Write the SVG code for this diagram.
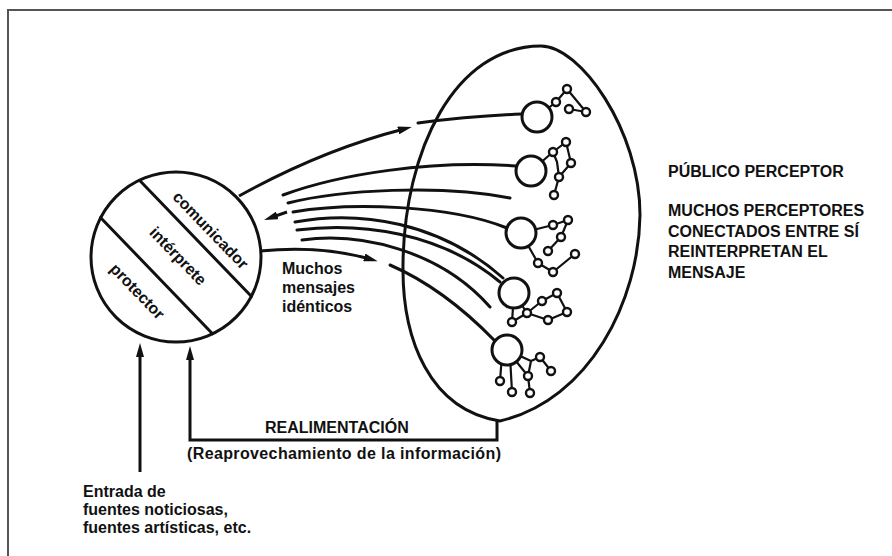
<svg xmlns="http://www.w3.org/2000/svg" width="892" height="556" viewBox="0 0 892 556">
<style>
  .ln{fill:none;stroke:#111;stroke-width:3;stroke-linecap:round}
  .ar{fill:none;stroke:#111;stroke-width:3;stroke-linecap:butt}
  .big{fill:#fff;stroke:#111;stroke-width:3}
  .sm{fill:#fff;stroke:#111;stroke-width:2.4}
  .ed{fill:none;stroke:#111;stroke-width:2.2;stroke-linejoin:round}
  .t{font-family:"Liberation Sans",Arial,sans-serif;font-size:16px;font-weight:bold;fill:#111}
  .frame{stroke:#555;stroke-width:2;fill:none}
</style>
<defs>
  <marker id="ah" viewBox="0 0 14 8" refX="6" refY="4" markerWidth="14" markerHeight="8" markerUnits="userSpaceOnUse" orient="auto">
    <path d="M0,0 L14,4 L0,8 z" fill="#111"/>
  </marker>
</defs>
<rect width="892" height="556" fill="#fff"/>
<path class="frame" d="M8,556 L8,10 L892,10"/>

<g id="fuente">
  <g transform="translate(176,257)">
    <circle class="big" cx="0" cy="0" r="85"/>
  </g>
  <line class="ln" x1="139.5" y1="180.3" x2="251.3" y2="296.3"/>
  <line class="ln" x1="100.7" y1="217.7" x2="212.5" y2="333.7"/>
  <text class="t" text-anchor="middle" transform="translate(206.6,234) rotate(46)">comunicador</text>
  <text class="t" text-anchor="middle" transform="translate(174.1,259.9) rotate(46)">intérprete</text>
  <text class="t" text-anchor="middle" transform="translate(133.5,295.1) rotate(46)">protector</text>
</g>

<g id="publico">
  <path class="ln" stroke-width="3.4" d="M500,421 C430,410 402,340 403,265 C404,150 455,46 541,46 C580,46 640,130 640,215 C639,300 590,400 500,421 Z"/>
</g>

<g id="connectors">
  <path class="ar" marker-end="url(#ah)" d="M239,196 Q322,150 404,129"/>
  <path class="ln" d="M418,123 Q470,116 522,114"/>
  <path class="ln" d="M283,195 C340,174 430,160 516,166"/>
  <path class="ln" d="M288,203 C340,190 440,184 510,198"/>
  <path class="ar" marker-end="url(#ah)" d="M287,212 L271.6,217.4"/>
  <path class="ln" d="M293,212 C350,202 450,205 507,228"/>
  <path class="ln" d="M295,222 C360,210 440,222 503,278"/>
  <path class="ln" d="M297,230 C360,222 440,232 500,282"/>
  <path class="ln" d="M302,240 C360,232 440,250 490,307"/>
  <path class="ar" marker-end="url(#ah)" d="M260,251 Q320,245 370,259"/>
  <path class="ln" d="M390,265 C420,278 455,300 494,340"/>
  <path class="ar" marker-end="url(#ah)" d="M497,421 L497,440 L190,440 L190,354"/>
  <path class="ar" marker-end="url(#ah)" d="M140,472 L140,351"/>
</g>

<g id="perceptor1">
  <path class="ed" d="M537,117 L556,102 L567,89 L586,112 L569,109"/>
  <circle class="big" cx="537" cy="117" r="15"/>
  <circle class="sm" cx="556" cy="102" r="4"/>
  <circle class="sm" cx="567" cy="89" r="4"/>
  <circle class="sm" cx="569" cy="109" r="4"/>
  <circle class="sm" cx="586" cy="112" r="4"/>
</g>

<g id="perceptor2">
  <path class="ed" d="M531,171 L553,152 L566,142 L571,163 L559,177 L554,195 M553,152 L557,162 L559,177"/>
  <circle class="big" cx="531" cy="171" r="15"/>
  <circle class="sm" cx="553" cy="152" r="4"/>
  <circle class="sm" cx="566" cy="142" r="4"/>
  <circle class="sm" cx="571" cy="163" r="4"/>
  <circle class="sm" cx="559" cy="177" r="4"/>
  <circle class="sm" cx="554" cy="195" r="4"/>
</g>

<g id="perceptor3">
  <path class="ed" d="M521,233 L553,225 L568,220 L561,237 L548,251 M521,233 L538,263 L553,272 L575,254"/>
  <circle class="big" cx="521" cy="233" r="15"/>
  <circle class="sm" cx="553" cy="225" r="4"/>
  <circle class="sm" cx="568" cy="220" r="4"/>
  <circle class="sm" cx="561" cy="237" r="4"/>
  <circle class="sm" cx="548" cy="251" r="4"/>
  <circle class="sm" cx="538" cy="263" r="4"/>
  <circle class="sm" cx="553" cy="272" r="4"/>
  <circle class="sm" cx="575" cy="254" r="4"/>
</g>

<g id="perceptor4">
  <path class="ed" d="M514,293 L512,322 L527,313 L514,293 M527,313 L542,301 L557,293 L567,312 L548,320 L527,313"/>
  <circle class="big" cx="514" cy="293" r="15"/>
  <circle class="sm" cx="512" cy="322" r="4"/>
  <circle class="sm" cx="527" cy="313" r="4"/>
  <circle class="sm" cx="542" cy="301" r="4"/>
  <circle class="sm" cx="557" cy="293" r="4"/>
  <circle class="sm" cx="567" cy="312" r="4"/>
  <circle class="sm" cx="548" cy="320" r="4"/>
</g>

<g id="perceptor5">
  <path class="ed" d="M502,355 L500,381 M510,356 L512,392 M507,350 L528,376 L530,393 M507,350 L531,361 L528,376 M531,361 L540,357 L551,371"/>
  <circle class="big" cx="507" cy="350" r="15"/>
  <circle class="sm" cx="500" cy="381" r="4"/>
  <circle class="sm" cx="512" cy="392" r="4"/>
  <circle class="sm" cx="528" cy="376" r="4"/>
  <circle class="sm" cx="530" cy="393" r="4"/>
  <circle class="sm" cx="540" cy="357" r="4"/>
  <circle class="sm" cx="551" cy="371" r="4"/>
</g>

<g id="label-mensajes">
  <text class="t" x="282" y="274">Muchos</text>
  <text class="t" x="282" y="293">mensajes</text>
  <text class="t" x="282" y="312">idénticos</text>
</g>

<g id="label-publico">
  <text class="t" x="668" y="177">PÚBLICO PERCEPTOR</text>
  <text class="t" x="668" y="216">MUCHOS PERCEPTORES</text>
  <text class="t" x="668" y="237">CONECTADOS ENTRE SÍ</text>
  <text class="t" x="668" y="257">REINTERPRETAN EL</text>
  <text class="t" x="668" y="278">MENSAJE</text>
</g>

<g id="label-realimentacion">
  <text class="t" x="265" y="433">REALIMENTACIÓN</text>
  <text class="t" x="187" y="459" textLength="314">(Reaprovechamiento de la información)</text>
</g>

<g id="label-entrada">
  <text class="t" x="83" y="497">Entrada de</text>
  <text class="t" x="83" y="515">fuentes noticiosas,</text>
  <text class="t" x="83" y="533">fuentes artísticas, etc.</text>
</g>
</svg>
